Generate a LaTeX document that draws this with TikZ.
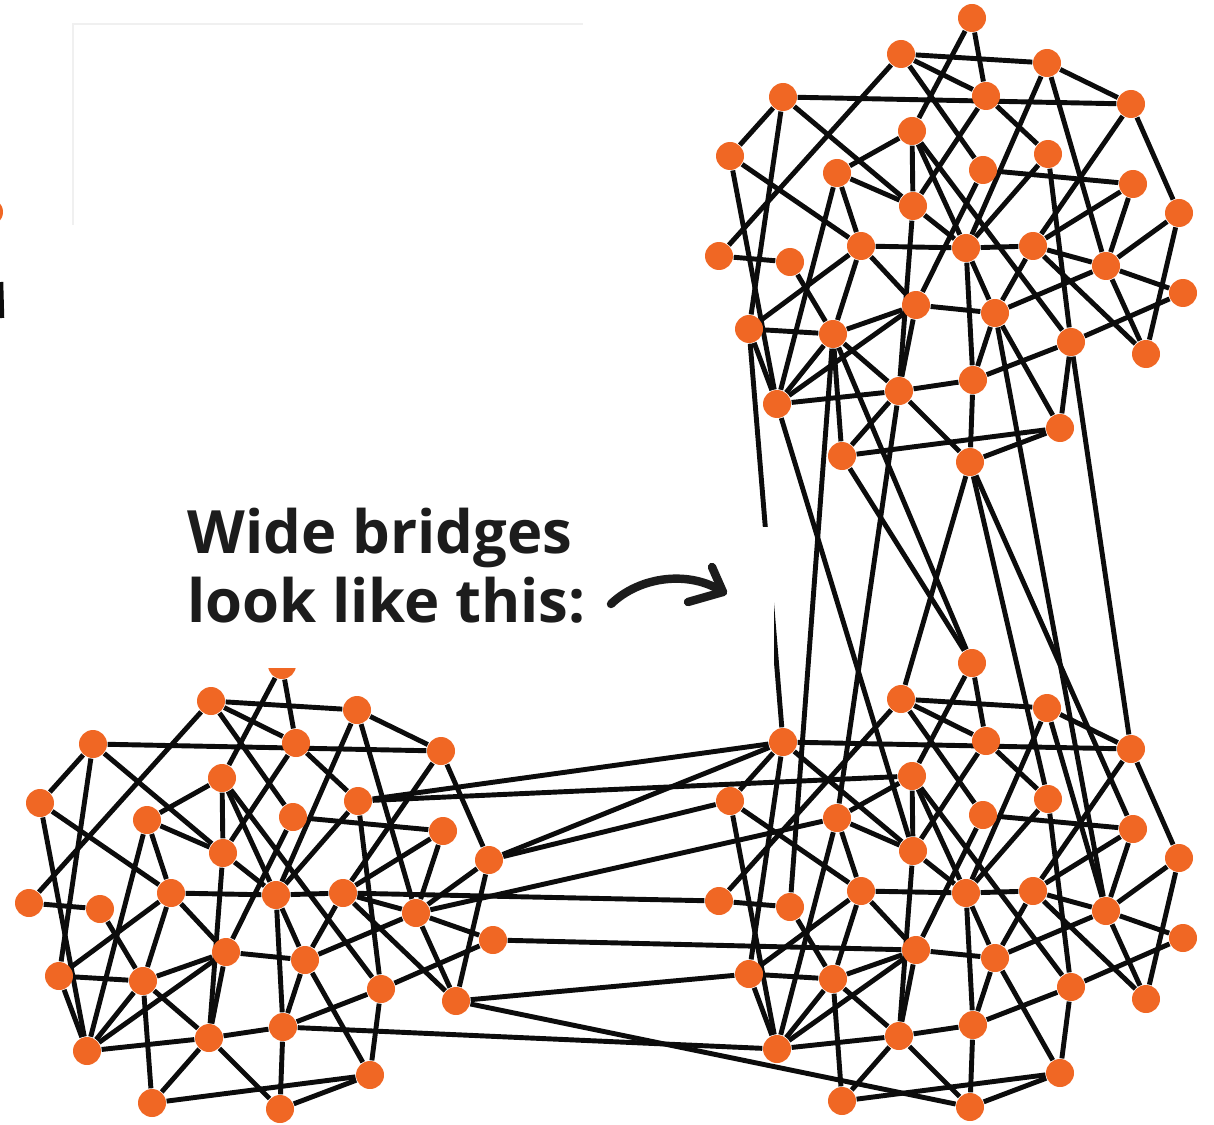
\documentclass[tikz,border=0pt]{standalone}
\usepackage{fontspec}
\setmainfont{Open Sans}
\usetikzlibrary{backgrounds}
\definecolor{DotClr}{RGB}{240,103,36}
\definecolor{LinkClr}{RGB}{12,12,12}
\definecolor{InkClr}{RGB}{28,28,28}

\tikzset{
  dot/.style={circle,fill=DotClr,inner sep=0pt,minimum size=2.8mm},
  link/.style={line width=1.4pt,color=LinkClr},
  inkstroke/.style={line width=2.4pt,color=InkClr,line cap=round,line join=round}
}

\newcommand{\netcluster}[3]{%
  \begin{scope}[shift={(#2,#3)}]
    \foreach \i/\px/\py in {1/972/18,2/901/54,3/1047/63,4/783/97,5/986/96,6/1131/104,
        7/912/131,8/1048/154,9/730/156,10/837/173,11/983/170,12/1133/184,13/913/206,
        14/1179/213,15/719/256,16/790/262,17/861/246,18/966/248,19/1033/246,20/1106/266,
        21/1183/293,22/749/329,23/833/334,24/916/305,25/995/313,26/1071/342,27/1146/354,
        28/777/404,29/899/391,30/973/380,31/1060/428,32/842/456,33/970/462}
      \node[dot] (#1\i) at (\px,\py) {};
  \end{scope}
  \begin{scope}[on background layer]
    \foreach \a/\b in {1/7,1/5,2/3,2/5,2/11,2/15,3/6,3/18,3/20,4/6,4/9,4/22,4/13,5/8,5/13,
        6/19,6/14,8/26,8/18,9/28,9/17,10/7,10/13,10/28,10/17,7/13,7/26,7/18,11/12,11/24,
        12/19,12/20,14/20,14/27,15/16,16/23,17/18,17/24,17/22,17/23,13/29,24/29,13/18,
        24/25,22/23,22/28,28/29,28/23,28/24,23/24,23/32,23/29,29/32,29/30,29/33,32/31,
        18/19,19/20,20/21,20/27,21/26,19/27,19/25,18/30,18/25,25/20,25/30,25/31,26/30,
        26/31,30/33,31/33}
      \draw[link] (#1\a) -- (#1\b);
  \end{scope}
}

\begin{document}
\begin{tikzpicture}[x=0.1mm,y=-0.1mm]
\useasboundingbox (0,0) rectangle (1214,1125);

\netcluster{T}{0}{0}
\netcluster{B}{0}{645}
\netcluster{L}{-690}{647}

\begin{scope}[on background layer]
\foreach \a/\b in {22/4,28/13,23/16,23/1,32/1,29/10,33/2,33/8,33/12,25/20,26/6}
  \draw[link] (T\a) -- (B\b);
\foreach \a/\b in {8/4,8/7,14/4,14/9,19/15,20/10,21/24,27/22,27/33,30/28}
  \draw[link] (L\a) -- (B\b);
\end{scope}

\node[dot] (edgedot) at (-11,212) {};
\coordinate (cutA) at (0.8,282);
\coordinate (cutB) at (1.8,318);
\draw[link] (cutA) -- (cutB);
\draw[gray!12,line width=0.4pt] (73,225) -- (73,24) -- (583,24);

\fill[white] (175,527) rectangle (774,668);

\node[anchor=base west,align=left,inner sep=0pt,
      font=\bfseries\fontsize{17}{19.6}\selectfont,text=InkClr] (caption) at (187,622)
  {Wide bridges\\look like this:};

\coordinate (tail) at (611,604);
\coordinate (tip) at (723,592);
\draw[inkstroke] (tail) .. controls (640,576) and (690,570) .. (tip);
\draw[inkstroke] (712,567) -- (tip) -- (688,602);
\end{tikzpicture}
\end{document}
